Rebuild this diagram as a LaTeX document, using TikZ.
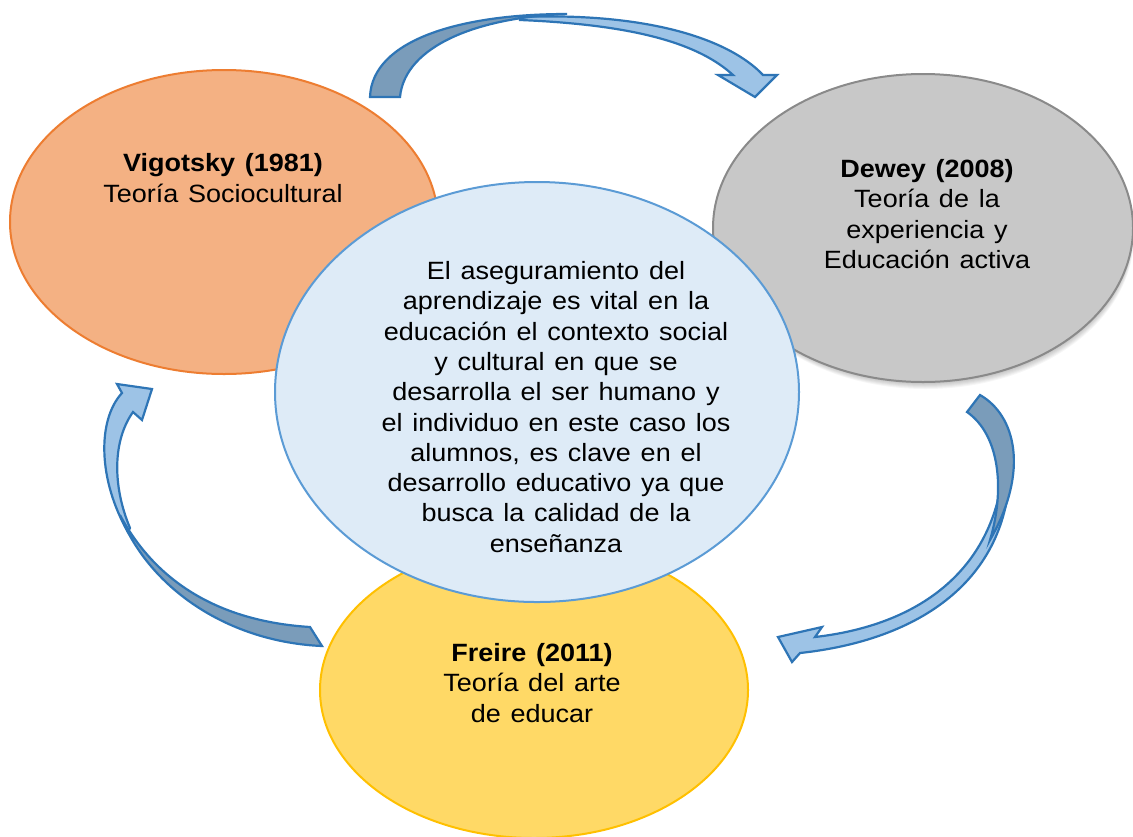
\documentclass[tikz,border=0pt]{standalone}
\usepackage{fontspec}
\setmainfont{Liberation Sans}[FakeStretch=1.08,WordSpace=1.3]
\usetikzlibrary{shapes.geometric}
\definecolor{vigfill}{HTML}{F4B183}
\definecolor{vigline}{HTML}{ED7D31}
\definecolor{dewfill}{HTML}{C8C8C8}
\definecolor{dewline}{HTML}{8A8A8A}
\definecolor{frefill}{HTML}{FFD966}
\definecolor{freline}{HTML}{FFC000}
\definecolor{cenfill}{HTML}{DEEBF7}
\definecolor{cenline}{HTML}{5B9BD5}
\definecolor{arrdark}{HTML}{7A9CBA}
\definecolor{arrlight}{HTML}{9DC3E6}
\definecolor{arrline}{HTML}{2E75B6}
\begin{document}
\begin{tikzpicture}[x=0.5pt,y=-0.5pt,
  oval/.style={ellipse, inner sep=0pt, line width=1pt},
  lbl/.style={align=center, font=\fontsize{12.5pt}{15.15pt}\selectfont, text=black, inner sep=0pt},
  darkpart/.style={fill=arrdark, draw=arrline, line width=1.1pt, line join=miter},
  lightpart/.style={fill=arrlight, draw=arrline, line width=1.1pt, line join=miter}]
\fill[white] (0,0) rectangle (1133,836);
\useasboundingbox (0,0) rectangle (1133,836);

% outer ellipses
\node[oval, fill=vigfill, draw=vigline, minimum width=214pt, minimum height=152pt] (vig) at (224,222) {};
\foreach \s in {1,...,9}
  \fill[black, opacity=0.035] (923+0.3*\s,228+\s) ellipse [x radius=104pt, y radius=76pt];
\node[oval, fill=dewfill, draw=dewline, minimum width=210pt, minimum height=154pt] (dew) at (923,228) {};
\node[oval, fill=frefill, draw=freline, minimum width=214pt, minimum height=148pt] (fre) at (534,690) {};
\node[oval, fill=cenfill, draw=cenline, minimum width=262pt, minimum height=210pt] (cen) at (537,392) {};

% top curved arrow (Vigotsky -> Dewey)
\path[lightpart] (520,17) .. controls (650,12) and (730,40) .. (763,75) -- (777,75) -- (755,97) -- (718,75) -- (733,75)
  .. controls (700,45) and (640,25) .. (520,20) -- cycle;
\path[darkpart] (370,97) .. controls (372,40) and (460,14) .. (567,14)
  .. controls (480,17) and (405,45) .. (400,97) -- cycle;

% right curved arrow (Dewey -> Freire)
\path[lightpart] (1010,468) .. controls (1008,580) and (920,640) .. (800,653) -- (792,662) -- (778,637) -- (822,627) -- (815,637)
  .. controls (920,625) and (992,570) .. (1003,472) -- cycle;
\path[darkpart] (980,395) .. controls (1015,415) and (1030,470) .. (990,540)
  .. controls (1005,490) and (1000,435) .. (967,412) -- cycle;

% left curved arrow (Freire -> Vigotsky)
\path[lightpart] (128,532) .. controls (98,480) and (97,420) .. (122,393) -- (117,384) -- (152,389) -- (142,420) -- (133,412)
  .. controls (113,440) and (112,485) .. (130,528) -- cycle;
\path[darkpart] (310,627) .. controls (230,622) and (160,590) .. (120,515)
  .. controls (150,590) and (230,642) .. (322,646) -- cycle;

% texts
\node[lbl] (vigt) at (223,178) {\textbf{Vigotsky (1981)}\\Teoría Sociocultural};
\node[lbl] (dewt) at (927,214) {\textbf{Dewey (2008)}\\Teoría de la\\experiencia y\\Educación activa};
\node[lbl] (fret) at (532,683) {\textbf{Freire (2011)}\\Teoría del arte\\de educar};
\node[lbl] (cent) at (556,407) {El aseguramiento del\\aprendizaje es vital en la\\educación el contexto social\\y cultural en que se\\desarrolla el ser humano y\\el individuo en este caso los\\alumnos, es clave en el\\desarrollo educativo ya que\\busca la calidad de la\\enseñanza};
\end{tikzpicture}
\end{document}
